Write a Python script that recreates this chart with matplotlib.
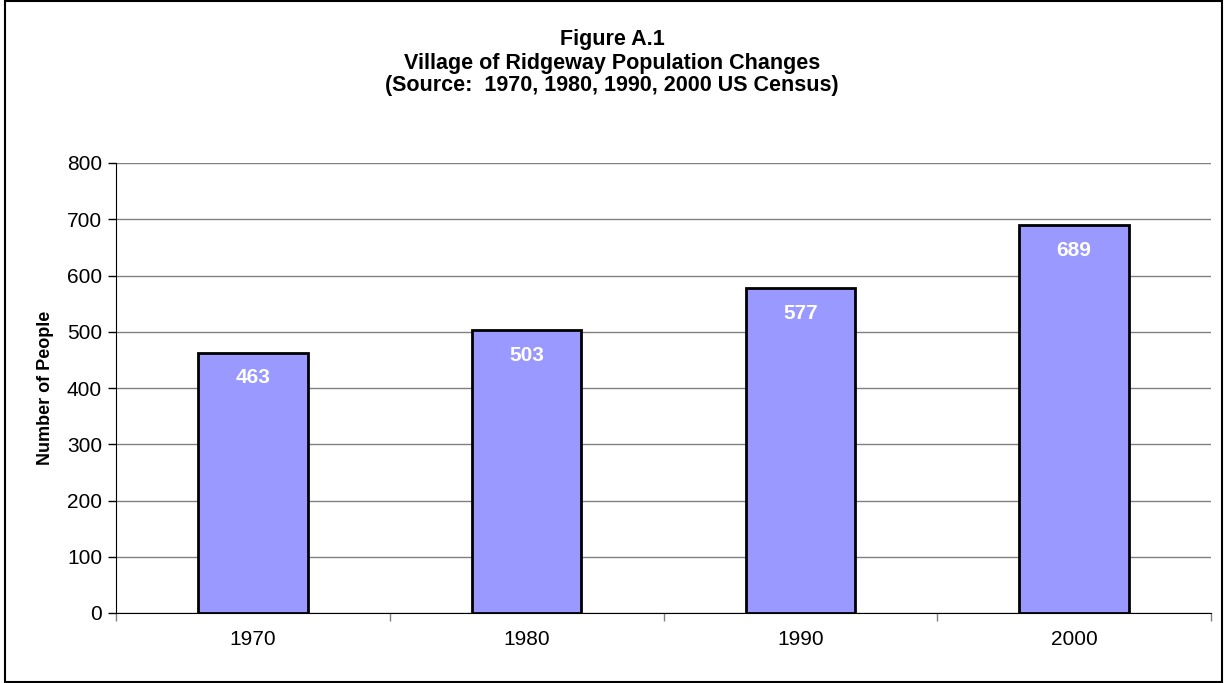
import matplotlib
matplotlib.use("Agg")
import matplotlib.pyplot as plt
from matplotlib.patches import Rectangle

years = ["1970", "1980", "1990", "2000"]
population = [463, 503, 577, 689]
yticks = [0, 100, 200, 300, 400, 500, 600, 700, 800]

plt.rcParams['font.family'] = ['Liberation Sans', 'DejaVu Sans']

fig = plt.figure(figsize=(12.24, 6.83), dpi=100)
ax = fig.add_axes([116/1224, 70/683, 1095/1224, 450/683])

x = list(range(len(years)))
bars = ax.bar(x, population, width=0.4, color='#9999FF', edgecolor='black', linewidth=2, zorder=3)
for xi, v in zip(x, population):
    ax.annotate(str(v), (xi, v), xytext=(0, -18), textcoords='offset points',
                ha='center', va='center', color='white',
                fontsize=15, fontweight='bold', zorder=4)

ax.set_xlim(-0.5, len(years) - 0.5)
ax.set_ylim(0, 800)
ax.set_yticks(yticks)
ax.set_yticklabels([str(t) for t in yticks], fontsize=15)
ax.yaxis.grid(True, color='#808080', linewidth=1)
ax.set_axisbelow(True)

ax.set_xticks(x)
ax.set_xticklabels(years, fontsize=15)
ax.tick_params(axis='x', length=0, pad=12)
ax.set_xticks([i - 0.5 for i in range(len(years) + 1)], minor=True)
ax.tick_params(axis='x', which='minor', length=6, direction='out', width=1, color='#808080')
ax.tick_params(axis='y', length=6, direction='out', width=1, pad=4)

for s in ['top', 'right']:
    ax.spines[s].set_visible(False)
ax.spines['left'].set_color('black')
ax.spines['bottom'].set_color('black')

ax.set_ylabel("Number of People", fontsize=13, fontweight='bold', labelpad=9)

fig.text(612/1224, 1 - 40/683, "Figure A.1", ha='center', va='center', fontsize=15.5, fontweight='bold')
fig.text(612/1224, 1 - 63/683, "Village of Ridgeway Population Changes", ha='center', va='center', fontsize=15.5, fontweight='bold')
fig.text(612/1224, 1 - 86/683, "(Source:  1970, 1980, 1990, 2000 US Census)", ha='center', va='center', fontsize=15.5, fontweight='bold')

fig.patches.append(Rectangle((5/1224, 1/683), 1217/1224, 681/683, transform=fig.transFigure,
                             fill=False, edgecolor='black', linewidth=1.5))

fig.savefig("out.png", dpi=100)
